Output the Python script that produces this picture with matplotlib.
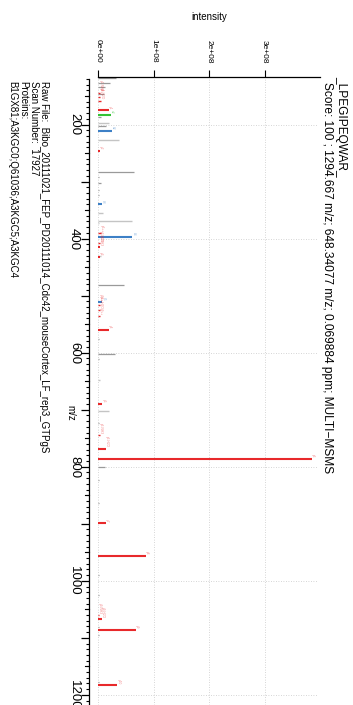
import matplotlib
matplotlib.use("Agg")
import matplotlib.pyplot as plt
import matplotlib.transforms as mtransforms

plt.rcParams['font.family'] = ['Liberation Sans', 'DejaVu Sans']

# peaks: m/z, intensity, ion label
y_ion_mz = [175.119, 246.156, 415.2, 432.235, 560.294, 689.336, 768.378, 786.389,
            899.473, 956.495, 1067.5, 1085.537, 1182.590]
y_ion_int = [0.20e8, 0.03e8, 0.03e8, 0.03e8, 0.19e8, 0.08e8, 0.14e8, 3.85e8,
             0.14e8, 0.86e8, 0.07e8, 0.68e8, 0.35e8]
y_ion_lab = ["y1", "y2", "y3-NH3", "y3", "y4", "y5", "y6-H2O", "y6",
             "y7", "y8", "y9-H2O", "y9", "y10"]

small_red_mz = [144.2, 151.2, 158.1, 390.2, 408.3, 516.0, 526.0,
                536.0, 745.0, 1060.0]
small_red_int = [0.04e8, 0.04e8, 0.05e8, 0.05e8, 0.04e8, 0.03e8, 0.03e8,
                 0.03e8, 0.03e8, 0.02e8]
small_red_lab = ["y1-NH3", "y2++", "y1-H2O", "y6++", "y3-H2O", "y8++",
                 "y9++-H2O", "y9++", "y6-NH3", "y9-NH3"]

b_ion_mz = [211.144, 340.187, 397.208, 510.292]
b_ion_int = [0.25e8, 0.07e8, 0.62e8, 0.08e8]
b_ion_lab = ["b2", "b3", "b4", "b5"]

a_ion_mz = [183.149]
a_ion_int = [0.23e8]
a_ion_lab = ["a2"]

dark_gray_mz = [119.0, 127.7, 134.7, 146.5, 186.3, 202.6, 283.8, 292.5, 302.0,
                314.8, 323.6, 481.3, 576.0, 602.8, 611.1, 723.3, 799.9, 823.2,
                863.5, 989.8, 1024.8, 1080.9, 1094.9, 1178.0]
dark_gray_int = [0.32e8, 0.22e8, 0.13e8, 0.10e8, 0.05e8, 0.15e8, 0.65e8, 0.02e8,
                 0.05e8, 0.01e8, 0.01e8, 0.46e8, 0.02e8, 0.31e8, 0.01e8, 0.01e8,
                 0.13e8, 0.02e8, 0.01e8, 0.02e8, 0.02e8, 0.02e8, 0.01e8, 0.01e8]

light_gray_mz = [196.8, 227.0, 354.6, 369.1, 372.6, 647.9, 701.7, 430.0]
light_gray_int = [0.20e8, 0.37e8, 0.09e8, 0.62e8, 0.02e8, 0.03e8, 0.19e8, 0.06e8]

x_ticks = [0, 1e8, 2e8, 3e8]
x_tick_labels = ["0e+00", "1e+08", "2e+08", "3e+08"]
mz_major = list(range(200, 1300, 100))
mz_labels = ["200", "", "400", "", "600", "", "800", "", "1000", "", "1200"]
mz_medium = list(range(150, 1250, 100))
mz_minor = list(range(120, 1220, 10))

title_text = "_LPEGIPEQWAR_"
score_text = "Score: 100 ; 1294.667 m/z; 648.34077 m/z; 0.069884 ppm; MULTI\u2212MSMS"
info_lines = ["Raw File:  Bibo_20111021_FEP_PD20111014_Cdc42_mouseCortex_LF_rep3_GTPgS",
              "Scan Number:  17927",
              "Proteins:",
              "B1GX81;A3KGC0;Q61036;A3KGC5;A3KGC4"]

W, H = 353, 705
RED = "#e8292b"
BLUE = "#3d80c6"
GREEN = "#35c235"


def px(x):
    return x / W


def py(y):
    return 1 - y / H


fig = plt.figure(figsize=(W / 100, H / 100), dpi=100)
ax = fig.add_axes([px(89), 0, px(322) - px(89), py(77)])

# intensity 0 at x=98, 55.5 px per 1e8
ax.set_xlim(-9 / 55.5 * 1e8, (322 - 98) / 55.5 * 1e8)
ax.set_ylim(1217.7, 116.7)

# grid
for t in x_ticks:
    ax.axvline(t, color="#c8c8c8", lw=0.6, ls=(0, (1, 2)), zorder=0)
ax.hlines(mz_major[::2], 0, 3.96e8, color="#c8c8c8", lw=0.6, ls=(0, (1, 2)), zorder=0)

# peaks
ax.hlines(light_gray_mz, 0, light_gray_int, color="#c4c4c4", lw=1.0)
ax.hlines(dark_gray_mz, 0, dark_gray_int, color="#9a9a9a", lw=0.9)
ax.hlines(small_red_mz, 0, small_red_int, color=RED, lw=1.0)
ax.hlines(y_ion_mz, 0, y_ion_int, color=RED, lw=1.5)
ax.hlines(b_ion_mz, 0, b_ion_int, color=BLUE, lw=1.5)
ax.hlines(a_ion_mz, 0, a_ion_int, color=GREEN, lw=1.5)

# tiny ion labels
for mzs, ints, labs, col in [(y_ion_mz, y_ion_int, y_ion_lab, RED),
                             (small_red_mz, small_red_int, small_red_lab, RED),
                             (b_ion_mz, b_ion_int, b_ion_lab, BLUE),
                             (a_ion_mz, a_ion_int, a_ion_lab, GREEN)]:
    for m, i, lab in zip(mzs, ints, labs):
        ax.text(i + 0.02e8, m - 2, lab, fontsize=2.3, color=col, alpha=0.55,
                rotation=-90, ha="center", va="bottom")

# axes styling
for s in ["right", "bottom"]:
    ax.spines[s].set_visible(False)
ax.spines["top"].set_bounds(0, 4e8)
ax.spines["left"].set_bounds(120, 1217.7)
ax.spines["top"].set_linewidth(0.9)
ax.spines["left"].set_linewidth(0.9)

ax.xaxis.tick_top()
ax.set_xticks(x_ticks)
ax.set_xticklabels(x_tick_labels, rotation=-90, fontsize=6)
ax.tick_params(axis="x", direction="out", length=5, width=0.8, pad=5)

ax.set_yticks(mz_major)
ax.set_yticklabels(mz_labels, rotation=-90, fontsize=9.5, va="center")
ax.set_yticks(mz_minor, minor=True)
ax.tick_params(axis="y", which="major", direction="out", length=5.5, width=0.9, pad=1)
ax.tick_params(axis="y", which="minor", direction="out", length=2, width=0.8)

# medium ticks every 50
trans = mtransforms.blended_transform_factory(ax.transAxes, ax.transData)
for m in mz_medium:
    ax.plot([-3.6 / 233, 0], [m, m], color="black", lw=0.8, transform=trans, clip_on=False)

fig.text(px(209), py(17), "intensity", fontsize=7, ha="center", va="center")
fig.text(px(70), py(413), "m/z", fontsize=7, rotation=-90, ha="center", va="center")

fig.text(px(341), py(76), title_text, fontsize=8.6, rotation=-90, ha="center", va="top")
fig.text(px(327), py(82), score_text, fontsize=8.6, rotation=-90, ha="center", va="top")

for xline, line in zip([44, 33.5, 23, 12.5], info_lines):
    fig.text(px(xline), py(81), line, fontsize=7, rotation=-90, ha="center", va="top")

fig.savefig("out.png", dpi=100)
